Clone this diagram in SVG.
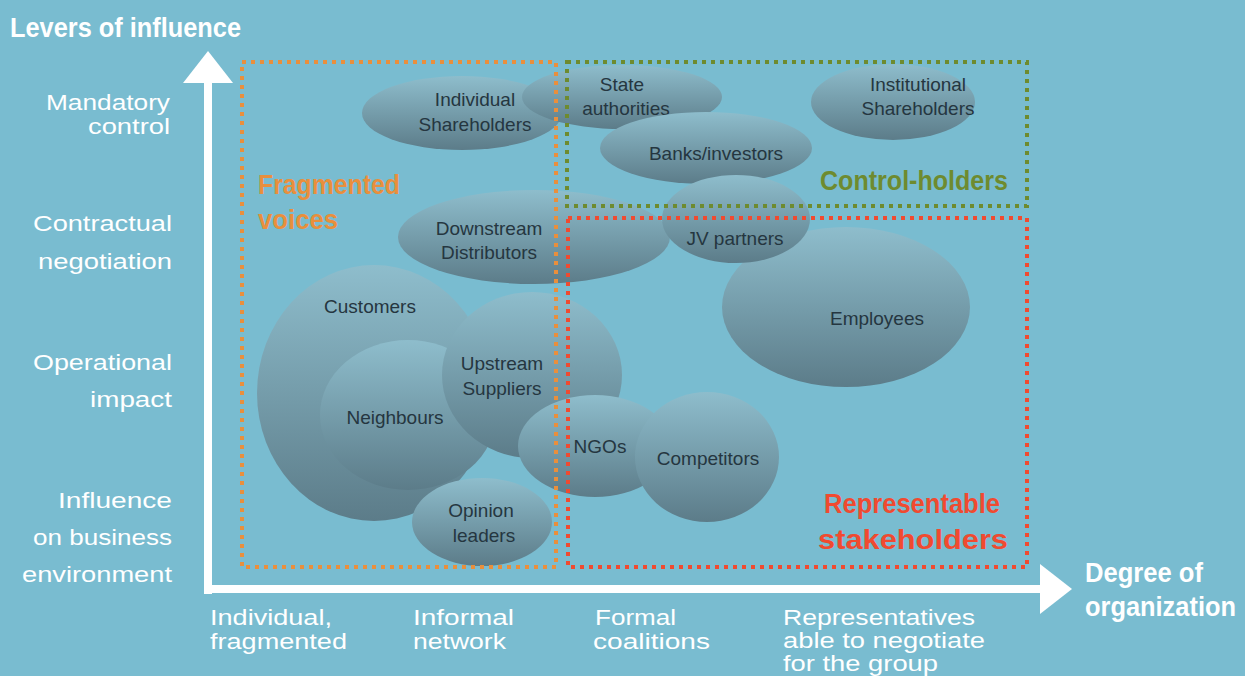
<svg xmlns="http://www.w3.org/2000/svg" width="1245" height="676" viewBox="0 0 1245 676">
<defs>
<linearGradient id="g" x1="0" y1="0" x2="0" y2="1">
<stop offset="0" stop-color="#8ebdcc"/>
<stop offset="1" stop-color="#5c7c89"/>
</linearGradient>
</defs>
<style>
.e{fill:url(#g)}
.n{font-family:"Liberation Sans",Arial,sans-serif;font-size:19px;fill:#253640;text-anchor:middle}
.ax{font-family:"Liberation Sans",Arial,sans-serif;font-size:22px;fill:#ffffff;font-weight:300}
.b{font-family:"Liberation Sans",Arial,sans-serif;font-weight:bold;font-size:27px}
.box{fill:none;stroke-width:4;stroke-dasharray:4 5}
</style>
<rect width="1245" height="676" fill="#79bcd0"/>
<g id="nodes">
<g id="individual-shareholders"><ellipse class="e" cx="462" cy="113" rx="100" ry="37"/><text class="n" x="475" y="106">Individual</text><text class="n" x="475" y="131">Shareholders</text></g>
<g id="state-authorities"><ellipse class="e" cx="622" cy="97" rx="100" ry="32"/><text class="n" x="622" y="91">State</text><text class="n" x="626" y="115">authorities</text></g>
<g id="institutional-shareholders"><ellipse class="e" cx="893" cy="102" rx="82" ry="38"/><text class="n" x="918" y="91">Institutional</text><text class="n" x="918" y="115">Shareholders</text></g>
<g id="banks-investors"><ellipse class="e" cx="706" cy="148" rx="106" ry="36"/><text class="n" x="716" y="160">Banks/investors</text></g>
<g id="downstream-distributors"><ellipse class="e" cx="534" cy="237" rx="136" ry="47"/><text class="n" x="489" y="235">Downstream</text><text class="n" x="489" y="259">Distributors</text></g>
<g id="employees"><ellipse class="e" cx="846" cy="307" rx="124" ry="80"/><text class="n" x="877" y="325">Employees</text></g>
<g id="jv-partners"><ellipse class="e" cx="736" cy="219" rx="74" ry="44"/><text class="n" x="735" y="245">JV partners</text></g>
<g id="customers"><ellipse class="e" cx="374" cy="393" rx="117" ry="128"/><text class="n" x="370" y="313">Customers</text></g>
<g id="neighbours"><ellipse class="e" cx="408" cy="415" rx="88" ry="75"/><text class="n" x="395" y="424">Neighbours</text></g>
<g id="upstream-suppliers"><ellipse class="e" cx="532" cy="375" rx="90" ry="83"/><text class="n" x="502" y="370">Upstream</text><text class="n" x="502" y="395">Suppliers</text></g>
<g id="ngos"><ellipse class="e" cx="595" cy="446" rx="77" ry="51"/><text class="n" x="600" y="453">NGOs</text></g>
<g id="competitors"><ellipse class="e" cx="707" cy="457" rx="72" ry="65"/><text class="n" x="708" y="465">Competitors</text></g>
<g id="opinion-leaders"><ellipse class="e" cx="482" cy="522" rx="70" ry="44"/><text class="n" x="481" y="517">Opinion</text><text class="n" x="484" y="542">leaders</text></g>
</g>
<g id="groups">
<rect class="box" x="242" y="62" width="314" height="505" stroke="#e98f3c"/>
<rect class="box" x="567" y="62" width="460" height="144" stroke="#6e8b2f"/>
<rect class="box" x="568" y="218" width="459" height="349" stroke="#f04a30"/>
<text class="b" x="258" y="194" fill="#e98f3c" textLength="142" lengthAdjust="spacingAndGlyphs">Fragmented</text>
<text class="b" x="258" y="229" fill="#e98f3c" textLength="80" lengthAdjust="spacingAndGlyphs">voices</text>
<text class="b" x="820" y="190" fill="#6e8b2f" textLength="188" lengthAdjust="spacingAndGlyphs">Control-holders</text>
<text class="b" x="824" y="513" fill="#f04a30" textLength="176" lengthAdjust="spacingAndGlyphs">Representable</text>
<text class="b" x="818" y="549" fill="#f04a30" textLength="190" lengthAdjust="spacingAndGlyphs">stakeholders</text>
</g>
<g id="axes" fill="#ffffff">
<rect x="204" y="80" width="8" height="514"/>
<polygon points="208,51 233,83 183,83"/>
<rect x="204" y="585" width="840" height="8"/>
<polygon points="1072,589 1040,564 1040,614"/>
<text class="b" x="10" y="37" textLength="231" lengthAdjust="spacingAndGlyphs">Levers of influence</text>
<text class="b" x="1085" y="582" textLength="118" lengthAdjust="spacingAndGlyphs">Degree of</text>
<text class="b" x="1085" y="616" textLength="151" lengthAdjust="spacingAndGlyphs">organization</text>
</g>
<g id="axis-labels">
<text class="ax" x="46" y="110" textLength="124" lengthAdjust="spacingAndGlyphs">Mandatory</text>
<text class="ax" x="88" y="134" textLength="82" lengthAdjust="spacingAndGlyphs">control</text>
<text class="ax" x="33" y="231" textLength="139" lengthAdjust="spacingAndGlyphs">Contractual</text>
<text class="ax" x="38" y="269" textLength="134" lengthAdjust="spacingAndGlyphs">negotiation</text>
<text class="ax" x="33" y="370" textLength="139" lengthAdjust="spacingAndGlyphs">Operational</text>
<text class="ax" x="90" y="407" textLength="82" lengthAdjust="spacingAndGlyphs">impact</text>
<text class="ax" x="58" y="508" textLength="114" lengthAdjust="spacingAndGlyphs">Influence</text>
<text class="ax" x="33" y="545" textLength="139" lengthAdjust="spacingAndGlyphs">on business</text>
<text class="ax" x="22" y="582" textLength="150" lengthAdjust="spacingAndGlyphs">environment</text>
<text class="ax" x="210" y="625" textLength="122" lengthAdjust="spacingAndGlyphs">Individual,</text>
<text class="ax" x="210" y="649" textLength="137" lengthAdjust="spacingAndGlyphs">fragmented</text>
<text class="ax" x="413" y="625" textLength="101" lengthAdjust="spacingAndGlyphs">Informal</text>
<text class="ax" x="413" y="649" textLength="93" lengthAdjust="spacingAndGlyphs">network</text>
<text class="ax" x="595" y="625" textLength="81" lengthAdjust="spacingAndGlyphs">Formal</text>
<text class="ax" x="593" y="649" textLength="117" lengthAdjust="spacingAndGlyphs">coalitions</text>
<text class="ax" x="783" y="625" textLength="192" lengthAdjust="spacingAndGlyphs">Representatives</text>
<text class="ax" x="783" y="648" textLength="202" lengthAdjust="spacingAndGlyphs">able to negotiate</text>
<text class="ax" x="783" y="671" textLength="155" lengthAdjust="spacingAndGlyphs">for the group</text>
</g>
</svg>
